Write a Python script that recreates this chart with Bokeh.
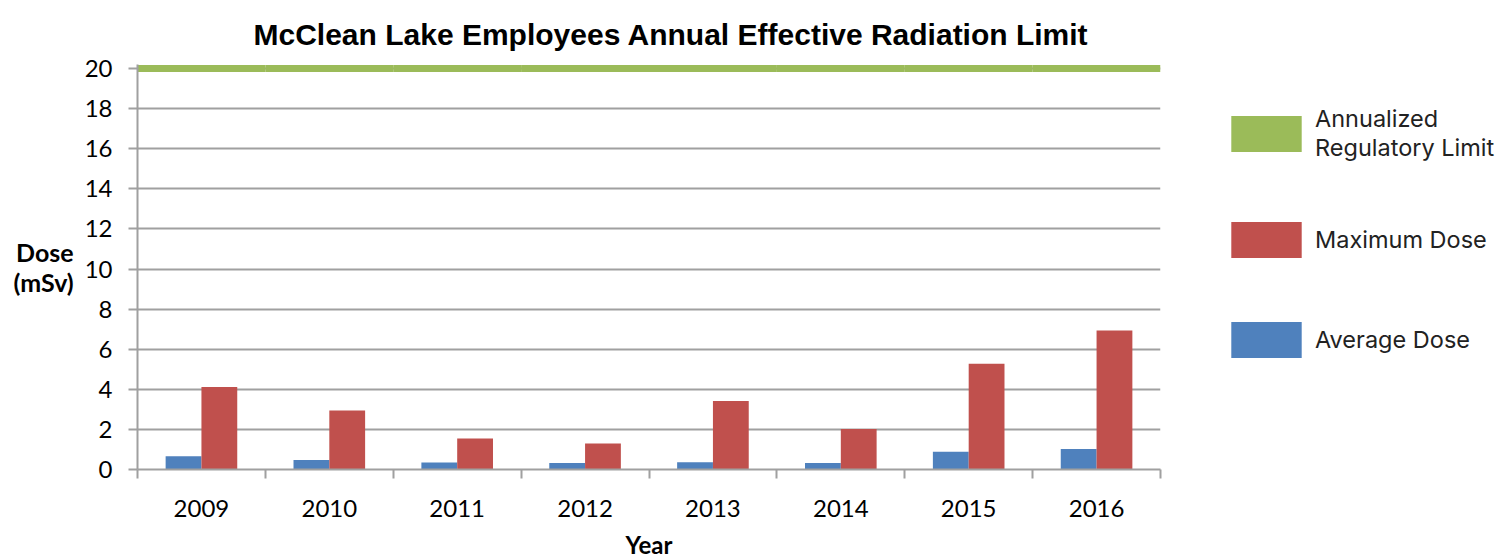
import numpy as np
from bokeh.plotting import figure
from bokeh.models import (Range1d, FixedTicker, Legend, LegendItem, ColumnDataSource)
from bokeh.transform import dodge
from bokeh.embed import file_html
from bokeh.resources import INLINE

# ---- data ----
years = ["2009", "2010", "2011", "2012", "2013", "2014", "2015", "2016"]
average_dose = [0.66, 0.48, 0.35, 0.33, 0.36, 0.33, 0.88, 1.02]
maximum_dose = [4.12, 2.94, 1.55, 1.30, 3.42, 2.02, 5.27, 6.93]
regulatory_limit = [20, 20, 20, 20, 20, 20, 20, 20]
y_ticks = [0, 2, 4, 6, 8, 10, 12, 14, 16, 18, 20]

BLUE = "#4F81BD"
RED = "#C0504D"
GREEN = "#9BBB59"
GRID = "#A0A0A0"

n = len(years)
centers = np.arange(n) + 0.5
bar_w = 0.28
band = 0.175

src = ColumnDataSource(dict(
    x=centers,
    avg=average_dose,
    mx=maximum_dose,
    lim_top=np.array(regulatory_limit) + band,
    lim_bot=np.array(regulatory_limit) - band,
))

p = figure(frame_width=1023, frame_height=405,
           min_border_left=137, min_border_right=344,
           min_border_top=64, min_border_bottom=79,
           x_range=Range1d(0, n), y_range=Range1d(0, 20.2),
           output_backend="svg", toolbar_location=None,
           background_fill_color="white", border_fill_color="white")
p.outline_line_color = None

# title
p.title.text = "McClean Lake Employees Annual Effective Radiation Limit"
p.title.text_font = "Liberation Sans"
p.title.text_font_style = "bold"
p.title.text_font_size = "30px"
p.title.text_line_height = 0.8
p.title.align = "left"
p.title.offset = 116
p.title.standoff = 28
p.title.text_color = "black"

# bars
r_avg = p.vbar(x=dodge("x", -bar_w / 2), top="avg", width=bar_w, source=src,
               fill_color=BLUE, line_color=None)
r_max = p.vbar(x=dodge("x", bar_w / 2), top="mx", width=bar_w, source=src,
               fill_color=RED, line_color=None)
r_lim = p.vbar(x="x", top="lim_top", bottom="lim_bot", width=1.0, source=src,
               fill_color=GREEN, line_color=None)

# x axis
xa = p.xaxis[0]
xa.ticker = FixedTicker(ticks=list(centers), minor_ticks=list(range(n + 1)))
xa.major_label_overrides = {float(c): y for c, y in zip(centers, years)}
xa.major_tick_line_color = None
xa.major_tick_out = 0
xa.major_tick_in = 0
xa.minor_tick_line_color = GRID
xa.minor_tick_line_width = 2
xa.minor_tick_out = 9
xa.minor_tick_in = 0
xa.axis_line_color = GRID
xa.axis_line_width = 2
xa.major_label_text_font = "Lato"
xa.major_label_text_font_size = "24px"
xa.major_label_text_color = "black"
xa.major_label_standoff = 21
xa.axis_label = "Year"
xa.axis_label_text_font = "Lato"
xa.axis_label_text_font_style = "bold"
xa.axis_label_text_font_size = "24px"
xa.axis_label_text_color = "black"
xa.axis_label_standoff = 10

# y axis
ya = p.yaxis[0]
ya.ticker = FixedTicker(ticks=y_ticks)
ya.axis_line_color = GRID
ya.axis_line_width = 2
ya.major_tick_line_color = GRID
ya.major_tick_line_width = 2
ya.major_tick_out = 9
ya.major_tick_in = 0
ya.minor_tick_line_color = None
ya.major_label_text_font = "Lato"
ya.major_label_text_font_size = "24px"
ya.major_label_text_color = "black"
ya.major_label_standoff = 16
ya.axis_label = "Dose\n(mSv)"
ya.axis_label_orientation = "horizontal"
ya.axis_label_text_font = "Lato"
ya.axis_label_text_font_style = "bold"
ya.axis_label_text_font_size = "25px"
ya.axis_label_text_line_height = 1.0
ya.axis_label_text_color = "black"
ya.axis_label_standoff = 8

p.xgrid.visible = False
p.ygrid.ticker = FixedTicker(ticks=y_ticks)
p.ygrid.grid_line_color = GRID
p.ygrid.grid_line_width = 2

# legend (right side panel)
legend = Legend(items=[
    LegendItem(label="Annualized\nRegulatory Limit", renderers=[r_lim]),
    LegendItem(label="Maximum Dose", renderers=[r_max]),
    LegendItem(label="Average Dose", renderers=[r_avg]),
], location=(62, 107), glyph_width=88, glyph_height=45, label_standoff=5,
    padding=0, margin=0, spacing=55, border_line_color=None, background_fill_alpha=0,
    label_text_font="Inter", label_text_font_size="23.5px", label_text_line_height=1.3,
    label_text_color="#222222")
p.add_layout(legend, "right")

open("out.html", "w").write(file_html(p, INLINE))
